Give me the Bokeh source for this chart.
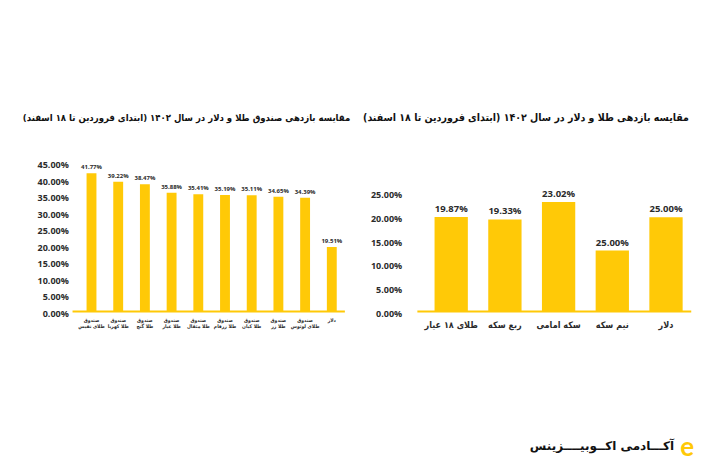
from bokeh.plotting import figure
from bokeh.layouts import row
from bokeh.models import ColumnDataSource, Range1d, Label
from bokeh.core.properties import value
from bokeh.embed import file_html
from bokeh.resources import INLINE

# ---------------- data ----------------
fund_names = ["صندوق\nطلای نفیس", "صندوق\nطلا کهربا", "صندوق\nطلا گنج", "صندوق\nطلا عیار",
              "صندوق\nطلا مثقال", "صندوق\nطلا زرفام", "صندوق\nطلا کیان", "صندوق\nطلا زر",
              "صندوق\nطلای لوتوس", "دلار"]
fund_values = [41.77, 39.22, 38.47, 35.88, 35.41, 35.19, 35.11, 34.65, 34.39, 19.51]
fund_labels = ["41.77%", "39.22%", "38.47%", "35.88%", "35.41%", "35.19%", "35.11%", "34.65%", "34.39%", "19.51%"]
left_ticks = [0, 5, 10, 15, 20, 25, 30, 35, 40, 45]
left_tick_labels = ["0.00%", "5.00%", "10.00%", "15.00%", "20.00%", "25.00%", "30.00%", "35.00%", "40.00%", "45.00%"]

asset_names = ["طلای ۱۸ عیار", "ربع سکه", "سکه امامی", "نیم سکه", "دلار"]
asset_values = [19.87, 19.33, 23.02, 12.8, 19.8]
asset_labels = ["19.87%", "19.33%", "23.02%", "25.00%", "25.00%"]
right_ticks = [0, 5, 10, 15, 20, 25]
right_tick_labels = ["0.00%", "5.00%", "10.00%", "15.00%", "20.00%", "25.00%"]

left_title = "مقایسه بازدهی صندوق طلا و دلار در سال ۱۴۰۲ (ابتدای فروردین تا ۱۸ اسفند)"
right_title = "مقایسه بازدهی طلا و دلار در سال ۱۴۰۲ (ابتدای فروردین تا ۱۸ اسفند)"
brand = "آکـــادمی اکــوبیــــزینس"

YELLOW = "#FFC907"
TXT = "#2b2b2b"
NUM_FONT = "Open Sans"
FA_FONT = "DejaVu Sans"
FA_COND = "DejaVu Sans Condensed"


def make_fig(width, xr, yr):
    p = figure(width=width, height=472, output_backend="svg", toolbar_location=None,
               x_range=Range1d(*xr), y_range=Range1d(*yr),
               min_border_left=0, min_border_right=0, min_border_top=0, min_border_bottom=0)
    p.axis.visible = False
    p.xgrid.grid_line_color = None
    p.ygrid.grid_line_color = None
    p.outline_line_color = None
    p.background_fill_color = "white"
    p.border_fill_color = "white"
    return p


def draw_chart(p, names, values, labels, ticks, tick_labels, bar_w, x_pad_l, x_pad_r, tick_x,
               val_size, tick_size, cat_font, cat_size, cat_off, val_off):
    n = len(names)
    xs = list(range(n))
    src = ColumnDataSource(dict(x=xs, v=values, lab=labels, name=names,
                                zero=[0] * n))
    p.vbar(x="x", top="v", width=bar_w, source=src, fill_color=YELLOW, line_color=None)
    # baseline (x axis line)
    p.segment(x0=[-x_pad_l], y0=[0], x1=[n - 1 + x_pad_r], y1=[0], line_color=YELLOW, line_width=2)
    # value labels
    p.text(x="x", y="v", text="lab", source=src, text_align="center", text_baseline="bottom",
           y_offset=val_off, text_font=value(NUM_FONT), text_font_size=val_size,
           text_font_style="bold", text_color=TXT)
    # category labels
    p.text(x="x", y="zero", text="name", source=src, text_align="center", text_baseline="top",
           y_offset=cat_off, text_font=value(cat_font), text_font_size=cat_size,
           text_font_style="bold", text_color=TXT, text_line_height=1.0)
    # y tick labels
    tsrc = ColumnDataSource(dict(y=ticks, t=tick_labels, x=[tick_x] * len(ticks)))
    p.text(x="x", y="y", text="t", source=tsrc, text_align="right", text_baseline="middle",
           y_offset=2, text_font=value(NUM_FONT), text_font_size=tick_size,
           text_font_style="bold", text_color=TXT)


# ---------------- left chart ----------------
# canvas 360 px: bar i centre at 91 + 26.7 i px ; value 0 at 311 px, 3.31 px per %
p1 = make_fig(360, (-91 / 26.7, (360 - 91) / 26.7), (-(472 - 311) / 3.31, 311 / 3.31))
draw_chart(p1, fund_names, fund_values, fund_labels, left_ticks, left_tick_labels,
           bar_w=0.37, x_pad_l=0.71, x_pad_r=0.49, tick_x=-0.85,
           val_size="6px", tick_size="9px", cat_font=FA_COND, cat_size="5px", cat_off=5, val_off=-2)
p1.add_layout(Label(x=3.56, y=58.6, text=left_title, text_align="center", text_baseline="middle",
                    text_font=FA_COND, text_font_size="9.5px", text_font_style="bold",
                    text_color="#111111"))

# ---------------- right chart ----------------
# canvas 349 px (starts at 360): bar i centre at 90.7 + 53.7 i px ; value 0 at 311 px, 4.76 px per %
p2 = make_fig(349, (-90.7 / 53.7, (349 - 90.7) / 53.7), (-(472 - 311) / 4.76, 311 / 4.76))
draw_chart(p2, asset_names, asset_values, asset_labels, right_ticks, right_tick_labels,
           bar_w=0.62, x_pad_l=0.63, x_pad_r=0.47, tick_x=-0.912,
           val_size="9.5px", tick_size="9px", cat_font=FA_COND, cat_size="9px", cat_off=8, val_off=-2)
p2.add_layout(Label(x=1.393, y=40.76, text=right_title, text_align="center", text_baseline="middle",
                    text_font=FA_COND, text_font_size="10.5px", text_font_style="bold",
                    text_color="#111111"))
p2.add_layout(Label(x=2.808, y=-28.36, text=brand, text_align="center", text_baseline="middle",
                    text_font=FA_FONT, text_font_size="12px", text_font_style="bold",
                    text_color="#111111"))
p2.add_layout(Label(x=4.395, y=-28.36, text="e", text_align="center", text_baseline="middle",
                    text_font="Lato", text_font_size="26px", text_font_style="bold",
                    text_color=YELLOW))

layout = row(p1, p2, spacing=0)
open("out.html", "w").write(file_html(layout, INLINE))
